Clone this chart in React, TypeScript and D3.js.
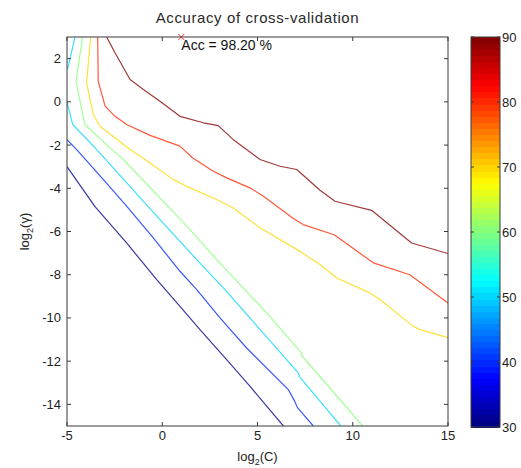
import React from "react";
import * as d3 from "d3";

// contour levels (accuracy %) and colour range
const levels = [30, 40, 50, 60, 70, 80, 90];
const colorDomain = [30, 90];
const colorbarTicks = [30, 40, 50, 60, 70, 80, 90];
const xTicks = [-5, 0, 5, 10, 15];
const yTicks = [-14, -12, -10, -8, -6, -4, -2, 0, 2];

// contour polylines in (log2 C, log2 gamma)
const line30 = [[-5, -3.0], [-3.53, -4.85], [-1.87, -6.53], [-0.29, -8.23], [0.93, -9.46], [1.98, -10.54], [3.38, -11.93], [4.61, -13.17], [6.36, -15]];
const line40 = [[-5, -1.75], [-4.49, -2.21], [-3.09, -3.6], [-1.87, -4.83], [-0.47, -6.3], [0.93, -7.84], [1.81, -8.69], [3.03, -10.0], [4.43, -11.39], [6.62, -13.32], [6.95, -13.85], [7.1, -14.15], [7.93, -15]];
const line50a = [[-4.58, 3], [-4.93, 1.65], [-5, 1.5]];
const line50b = [[-5, 0.0], [-4.7, -1.05], [-3.44, -2.21], [-0.12, -5.45], [1.81, -7.3], [3.29, -8.69], [7.15, -12.55], [7.2, -12.72], [9.37, -15]];
const line60 = [[-4.18, 3], [-4.53, 0.95], [-4.06, -1.05], [-2.65, -2.21], [-2.04, -2.67], [1.37, -5.83], [2.86, -7.3], [5.48, -9.77], [7.3, -11.6], [7.33, -11.75], [10.52, -15]];
const line70 = [[-3.76, 3], [-3.97, 0.88], [-3.62, -0.59], [-3.27, -1.13], [-1.69, -2.21], [-0.64, -2.83], [0.58, -3.6], [1.28, -3.91], [2.86, -4.52], [3.73, -4.91], [5.13, -5.83], [7.23, -6.92], [8.28, -7.53], [9.16, -8.15], [10.9, -8.84], [11.43, -9.15], [13.18, -10.39], [13.53, -10.54], [15, -10.91]];
const line80 = [[-3.39, 3], [-3.36, 0.95], [-3.0, -0.2], [-2.48, -0.67], [-1.87, -1.05], [-0.64, -1.55], [0.93, -2.05], [1.6, -2.6], [2.68, -3.21], [3.38, -3.52], [4.6, -3.98], [5.31, -4.37], [6.88, -5.4], [7.4, -5.68], [8.98, -6.14], [9.1, -6.2], [11.08, -7.45], [13.0, -8.0], [15, -9.31]];
const line90 = [[-2.92, 3], [-2.48, 2.27], [-1.69, 1.03], [-0.99, 0.57], [-0.12, 0.03], [0.93, -0.67], [2.16, -0.97], [2.94, -1.1], [3.73, -1.75], [5.13, -2.67], [6.18, -2.98], [7.06, -3.13], [8.28, -4.09], [9.07, -4.6], [10.99, -5.02], [13.09, -6.53], [15, -7.02]];

const contours = [
  { level: levels[0], pts: line30 },
  { level: levels[1], pts: line40 },
  { level: levels[2], pts: line50a },
  { level: levels[2], pts: line50b },
  { level: levels[3], pts: line60 },
  { level: levels[4], pts: line70 },
  { level: levels[5], pts: line80 },
  { level: levels[6], pts: line90 },
];

const best = { c: 1, g: 3, acc: 98.2 };

const W = 521;
const H = 468;
const font = "'Liberation Sans', Arial, sans-serif";
const NCOL = 64;

// matlab jet colormap
function jet(t: number) {
  const c = (v: number) => Math.max(0, Math.min(1, v));
  const r = c(1.5 - Math.abs(4 * t - 3));
  const g = c(1.5 - Math.abs(4 * t - 2));
  const b = c(1.5 - Math.abs(4 * t - 1));
  return d3.rgb(r * 255, g * 255, b * 255).formatHex();
}
const bandColor = (i: number) => jet((i + 0.5) / NCOL);

export default function App() {
  const x = d3.scaleLinear().domain([-5, 15]).range([67, 448]);
  const y = d3.scaleLinear().domain([-15, 3]).range([426, 37]);
  const cb = d3.scaleLinear().domain(colorDomain).range([427, 37]);
  const idx = d3.scaleQuantize<number>().domain(colorDomain).range(d3.range(NCOL));
  const lineColor = (v: number) => bandColor(v >= colorDomain[1] ? NCOL - 1 : idx(v));

  const line = d3
    .line<number[]>()
    .x((d) => x(d[0]))
    .y((d) => y(d[1]));

  const [x0, x1] = x.range();
  const [y0, y1] = y.range(); // y0 bottom, y1 top
  const cbL = 471;
  const cbR = 500;
  const axisCol = "#3a3a3a";
  const tickLen = 4;
  const bands = d3.range(NCOL);
  const step = (colorDomain[1] - colorDomain[0]) / NCOL;

  return (
    <svg
      width={W}
      height={H}
      style={{ position: "absolute", left: 0, top: 0, background: "#fff" }}
      fontFamily={font}
    >
      <defs>
        <clipPath id="plotclip">
          <rect x={x0} y={y1} width={x1 - x0} height={y0 - y1} />
        </clipPath>
      </defs>

      <text x={(x0 + x1) / 2} y={23} textAnchor="middle" fontSize={15} letterSpacing={0.6} fill="#2a2a2a">
        Accuracy of cross-validation
      </text>

      {/* contour lines */}
      <g clipPath="url(#plotclip)" fill="none" strokeWidth={1.2} strokeOpacity={0.78} strokeLinejoin="round">
        {contours.map((c, i) => (
          <path key={i} d={line(c.pts) || ""} stroke={lineColor(c.level)} />
        ))}
      </g>

      {/* best point */}
      <g stroke="#ff3030" strokeWidth={1}>
        <line x1={x(best.c) - 3} x2={x(best.c) + 3} y1={y(best.g) - 3} y2={y(best.g) + 3} />
        <line x1={x(best.c) - 3} x2={x(best.c) + 3} y1={y(best.g) + 3} y2={y(best.g) - 3} />
      </g>
      <text x={x(best.c)} y={y(best.g) + 13} fontSize={14} fill="#111">
        {`Acc = ${best.acc.toFixed(2)} %`}
      </text>

      {/* axes box and ticks */}
      <rect x={x0} y={y1} width={x1 - x0} height={y0 - y1} fill="none" stroke={axisCol} strokeWidth={1} />
      {xTicks.map((t) => (
        <g key={"xt" + t} stroke={axisCol}>
          <line x1={x(t)} x2={x(t)} y1={y0} y2={y0 - tickLen} />
          <line x1={x(t)} x2={x(t)} y1={y1} y2={y1 + tickLen} />
        </g>
      ))}
      {yTicks.map((t) => (
        <g key={"yt" + t} stroke={axisCol}>
          <line x1={x0} x2={x0 + tickLen} y1={y(t)} y2={y(t)} />
          <line x1={x1} x2={x1 - tickLen} y1={y(t)} y2={y(t)} />
        </g>
      ))}
      {xTicks.map((t) => (
        <text key={"xl" + t} x={x(t)} y={y0 + 14} textAnchor="middle" fontSize={13} fill="#222">
          {t}
        </text>
      ))}
      {yTicks.map((t) => (
        <text key={"yl" + t} x={x0 - 6} y={y(t)} dy="0.35em" textAnchor="end" fontSize={13} fill="#222">
          {t}
        </text>
      ))}

      {/* axis labels */}
      <text x={(x0 + x1) / 2} y={461} textAnchor="middle" fontSize={13} fill="#222">
        log<tspan fontSize={9} dy={4}>2</tspan>
        <tspan dy={-4}>(C)</tspan>
      </text>
      <text
        transform={`translate(29,${(y0 + y1) / 2}) rotate(-90)`}
        textAnchor="middle"
        fontSize={13}
        fill="#222"
      >
        log<tspan fontSize={9} dy={4}>2</tspan>
        <tspan dy={-4}>(γ)</tspan>
      </text>

      {/* colorbar */}
      <g shapeRendering="crispEdges">
        {bands.map((i) => {
          const lo = colorDomain[0] + i * step;
          const top = cb(lo + step);
          return (
            <rect key={i} x={cbL} y={top} width={cbR - cbL} height={cb(lo) - top + 0.5} fill={bandColor(i)} />
          );
        })}
      </g>
      <rect x={cbL} y={cb(colorDomain[1])} width={cbR - cbL} height={cb(colorDomain[0]) - cb(colorDomain[1])} fill="none" stroke={axisCol} />
      {colorbarTicks.map((t) => (
        <g key={"cb" + t}>
          <line x1={cbL} x2={cbL + 3} y1={cb(t)} y2={cb(t)} stroke={axisCol} />
          <line x1={cbR} x2={cbR - 3} y1={cb(t)} y2={cb(t)} stroke={axisCol} />
          <text x={cbR + 2} y={cb(t)} dy="0.35em" fontSize={13} fill="#222">
            {t}
          </text>
        </g>
      ))}
    </svg>
  );
}
